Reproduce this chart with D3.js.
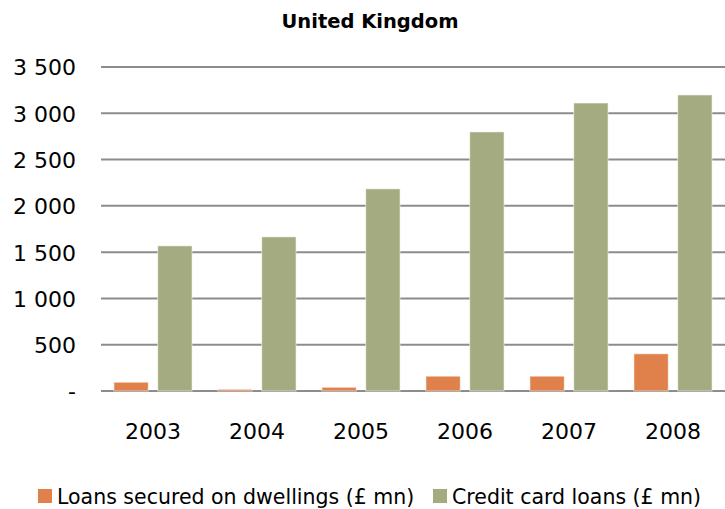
<!DOCTYPE html>
<html>
<head>
<meta charset="utf-8">
<script src="https://cdn.jsdelivr.net/npm/d3@7"></script>
<style>
  html, body { margin: 0; padding: 0; background: #fff; }
  svg { display: block; }
  text { font-family: "DejaVu Sans", sans-serif; fill: #000; }
</style>
</head>
<body>
<svg id="chart" width="725" height="509"></svg>
<script>
const years = ["2003", "2004", "2005", "2006", "2007", "2008"];
const seriesNames = ["Loans secured on dwellings (£ mn)", "Credit card loans (£ mn)"];
const loansDwellings = [95, 18, 40, 160, 160, 402];
const creditCard = [1568, 1665, 2184, 2799, 3111, 3198];
const yTicks = [0, 500, 1000, 1500, 2000, 2500, 3000, 3500];
const yTickLabels = ["-", "500", "1 000", "1 500", "2 000", "2 500", "3 000", "3 500"];
const colors = ["#E0804A", "#A5AB80"];
const title = "United Kingdom";

(function () {
const svg = d3.select("#chart");
const pLeft = 101, pRight = 725, pTop = 67, pBottom = 391;

const x = d3.scaleBand().domain(years).range([pLeft, pRight]).paddingInner(0).paddingOuter(0);
const xs = d3.scaleBand().domain([0, 1]).range([0, x.bandwidth()]).paddingInner(0.216).paddingOuter(0.295);
const y = d3.scaleLinear().domain([0, 3500]).range([pBottom, pTop]);

// title
svg.append("text").attr("x", 370).attr("y", 28).attr("text-anchor", "middle")
  .attr("font-size", 19.5).attr("font-weight", "bold").text(title);

// gridlines
svg.append("g").selectAll("line").data(yTicks).join("line")
  .attr("x1", pLeft).attr("x2", pRight)
  .attr("y1", d => y(d)).attr("y2", d => y(d))
  .attr("stroke", "#8c8c8c").attr("stroke-width", 2);

// y labels
const yAxis = d3.axisLeft(y).tickValues(yTicks).tickSize(0).tickPadding(0)
  .tickFormat((d, i) => yTickLabels[i]);
const gy = svg.append("g").attr("transform", "translate(76,0)").call(yAxis);
gy.select(".domain").remove();
gy.selectAll("text").attr("font-size", 22).attr("font-family", "DejaVu Sans").attr("fill", "#000").attr("dy", "0.36em");

// bars
const data = years.map((yr, i) => ({ yr, vals: [loansDwellings[i], creditCard[i]] }));
const groups = svg.append("g").selectAll("g").data(data).join("g")
  .attr("transform", d => `translate(${x(d.yr)},0)`);
groups.selectAll("rect").data(d => d.vals.map((v, k) => ({ v, k }))).join("rect")
  .attr("x", d => xs(d.k)).attr("width", xs.bandwidth())
  .attr("y", d => y(d.v)).attr("height", d => y(0) - y(d.v))
  .attr("fill", d => colors[d.k])
  .attr("stroke", "rgba(255,255,255,0.55)").attr("stroke-width", 1);

// x labels
const xAxis = d3.axisBottom(x).tickSize(0).tickPadding(0);
const gx = svg.append("g").call(xAxis);
gx.select(".domain").remove();
gx.selectAll("text").attr("y", 439).attr("dy", 0).attr("font-size", 22)
  .attr("font-family", "DejaVu Sans").attr("fill", "#000");

// legend
const legendX = [38, 433];
const leg = svg.append("g").selectAll("g").data(seriesNames).join("g")
  .attr("transform", (d, i) => `translate(${legendX[i]},0)`);
leg.append("rect").attr("x", 0).attr("y", 489).attr("width", 14).attr("height", 14)
  .attr("fill", (d, i) => colors[i]);
leg.append("text").attr("x", 19).attr("y", 504).attr("font-size", 20.5).text(d => d);
})();
</script>
</body>
</html>
